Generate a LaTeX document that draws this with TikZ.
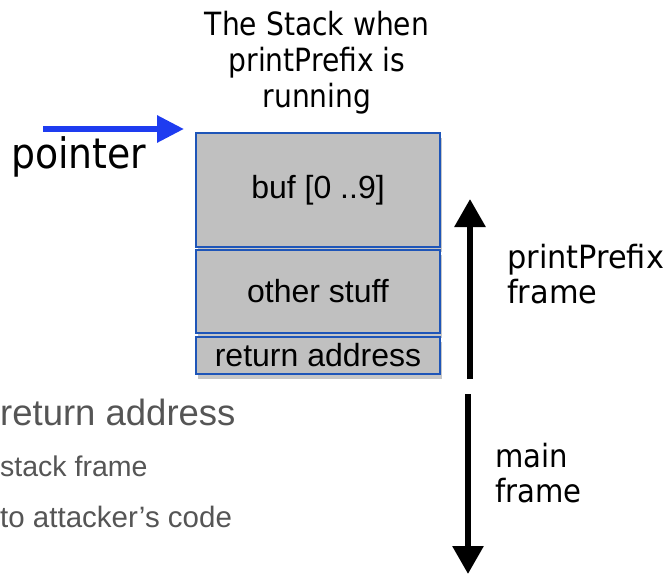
\documentclass[tikz,border=0pt]{standalone}
\usepackage{fontspec}
\setmainfont{Liberation Sans}
\newfontfamily\lucida{DejaVu Sans}
\usetikzlibrary{arrows.meta,shadows}
\definecolor{boxgray}{HTML}{C0C0C0}
\definecolor{boxblue}{HTML}{1E55B8}
\definecolor{ptrblue}{HTML}{1E3CF0}
\definecolor{txtgray}{HTML}{555555}
\newcommand\nx[2]{\scalebox{#1}[1]{#2}}
\begin{document}
\begin{tikzpicture}[x=1pt,y=-1pt,
  cell/.style={draw=boxblue,line width=2.4pt,fill=boxgray,minimum width=244pt,inner sep=0pt,
    font=\fontsize{32}{36}\selectfont,drop shadow={shadow xshift=2pt,shadow yshift=-5pt,opacity=0.45}},
  lbl/.style={font=\lucida\fontsize{32}{35}\selectfont,align=left,anchor=north west,inner sep=0pt},
  bigarrow/.style={line width=6pt,-{Triangle[length=28pt,width=30pt]}},
  grayline/.style={text=txtgray,anchor=west,inner sep=0pt}]
\useasboundingbox (0,0) rectangle (670,578);
% title
\node[font=\lucida\fontsize{32}{36}\selectfont,align=center,anchor=north,inner sep=0pt] (title) at (317,11)
  {\nx{0.88}{The Stack when}\\\nx{0.88}{printPrefix is}\\\nx{0.88}{running}};
% pointer
\coordinate (ps) at (43,129);
\coordinate (pe) at (184,129);
\draw[ptrblue,line width=6pt,-{Triangle[length=27pt,width=26pt]}] (ps) -- (pe);
\node[font=\lucida\fontsize{42}{44}\selectfont,anchor=base west,inner sep=0pt] (pointer) at (11,168) {\nx{0.9}{pointer}};
% stack cells
\node[cell,minimum height=114pt] (buf) at (318,190) {buf [0 ..9]};
\node[cell,minimum height=83pt] (other) at (318,291.5) {other stuff};
\node[cell,minimum height=37pt] (ret) at (318,355.5) {return address};
% frame arrows
\coordinate (u1) at (470,379);
\coordinate (u2) at (470,199);
\coordinate (d1) at (468,394);
\coordinate (d2) at (468,574);
\draw[bigarrow] (u1) -- (u2);
\draw[bigarrow] (d1) -- (d2);
\node[lbl] (pp) at (507,244) {\nx{0.95}{printPrefix}\\\nx{0.95}{frame}};
\node[lbl] (mf) at (495,443) {\nx{0.91}{main}\\\nx{0.91}{frame}};
% gray partial text
\node[grayline,font=\fontsize{36.5}{40}\selectfont] (g1) at (0,412) {return address};
\node[grayline,font=\fontsize{28.5}{32}\selectfont] (g2) at (0,466) {stack frame};
\node[grayline,font=\fontsize{29.5}{32}\selectfont] (g3) at (0,517) {to attacker’s code};
\end{tikzpicture}
\end{document}
